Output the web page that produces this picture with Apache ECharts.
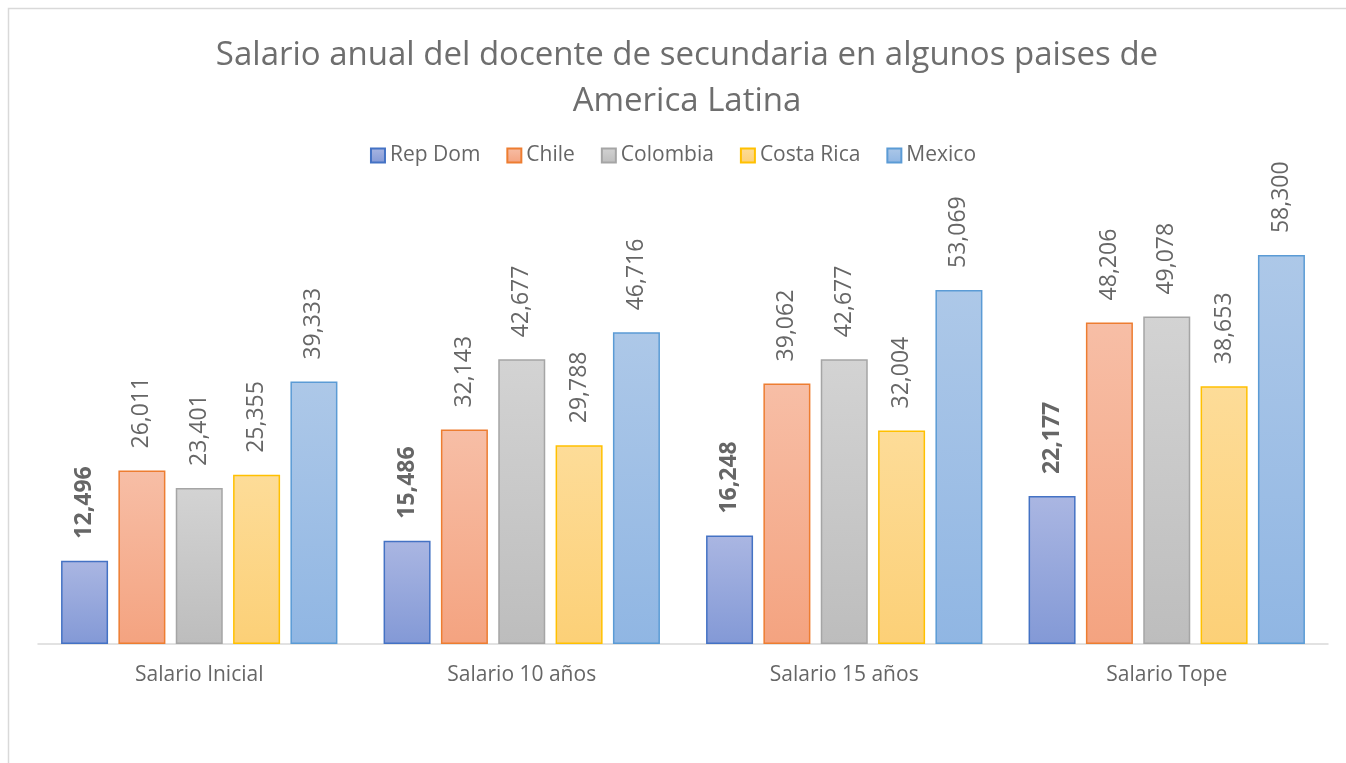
<!DOCTYPE html>
<html>
<head>
<meta charset="utf-8">
<script src="https://cdn.jsdelivr.net/npm/echarts@6/dist/echarts.min.js"></script>
<style>
  html, body { margin: 0; padding: 0; background: #fff; overflow: hidden; }
  #chart { width: 1346px; height: 763px; }
</style>
</head>
<body>
<div id="chart"></div>
<script>
var categories = ['Salario Inicial', 'Salario 10 años', 'Salario 15 años', 'Salario Tope'];
var seriesNames = ['Rep Dom', 'Chile', 'Colombia', 'Costa Rica', 'Mexico'];
var repDom = [12496, 15486, 16248, 22177];
var chile = [26011, 32143, 39062, 48206];
var colombia = [23401, 42677, 42677, 49078];
var costaRica = [25355, 29788, 32004, 38653];
var mexico = [39333, 46716, 53069, 58300];

var values = [repDom, chile, colombia, costaRica, mexico];
// top colour, bottom colour, border
var palette = [
  ['#aab6e2', '#8399d6', '#4472c4'],
  ['#f7bea6', '#f4a380', '#ed7d31'],
  ['#d3d3d3', '#bdbdbd', '#a5a5a5'],
  ['#fddc98', '#fcd077', '#ffc000'],
  ['#adc8e8', '#90b6e3', '#5b9bd5']
];

function fmt(v) {
  return String(v).replace(/\B(?=(\d{3})+(?!\d))/g, ',');
}

var font = 'Open Sans';
var chart = echarts.init(document.getElementById('chart'));

var series = seriesNames.map(function (name, i) {
  var c = palette[i];
  return {
    name: name,
    type: 'bar',
    data: values[i],
    barWidth: 47,
    barGap: '22%',
    itemStyle: {
      color: new echarts.graphic.LinearGradient(0, 0, 0, 1, [
        { offset: 0, color: c[0] },
        { offset: 1, color: c[1] }
      ]),
      borderColor: c[2],
      borderWidth: 1.5
    },
    label: {
      show: true,
      position: 'top',
      rotate: 90,
      align: 'left',
      verticalAlign: 'middle',
      distance: 22,
      color: '#666666',
      fontFamily: font,
      fontSize: 23,
      fontWeight: i === 0 ? 'bold' : 'normal',
      formatter: function (p) { return fmt(p.value); }
    }
  };
});

chart.setOption({
  animation: false,
  backgroundColor: '#ffffff',
  graphic: [{
    type: 'rect',
    shape: { x: 8.5, y: 8.5, width: 1400, height: 800 },
    style: { fill: 'none', stroke: '#d9d9d9', lineWidth: 1.5 },
    silent: true,
    z: -10
  }],
  title: {
    text: 'Salario anual del docente de secundaria en algunos paises de\nAmerica Latina',
    left: 682,
    textAlign: 'center',
    top: 28,
    textStyle: {
      color: '#6e6e6e',
      fontFamily: font,
      fontSize: 33,
      fontWeight: 'normal',
      lineHeight: 46
    }
  },
  legend: {
    data: seriesNames,
    top: 140,
    left: 'center',
    icon: 'rect',
    itemWidth: 14,
    itemHeight: 14,
    itemGap: 26,
    textStyle: { color: '#666666', fontFamily: font, fontSize: 21 }
  },
  grid: { left: 38, right: 18, top: 177, bottom: 119, containLabel: false },
  xAxis: {
    type: 'category',
    data: categories,
    axisLine: { show: true, lineStyle: { color: '#d9d9d9', width: 1.5 } },
    axisTick: { show: false },
    axisLabel: {
      color: '#666666',
      fontFamily: font,
      fontSize: 21,
      margin: 21
    }
  },
  yAxis: {
    type: 'value',
    min: 0,
    max: 70000,
    show: false,
    splitLine: { show: false }
  },
  series: series
});
</script>
</body>
</html>
